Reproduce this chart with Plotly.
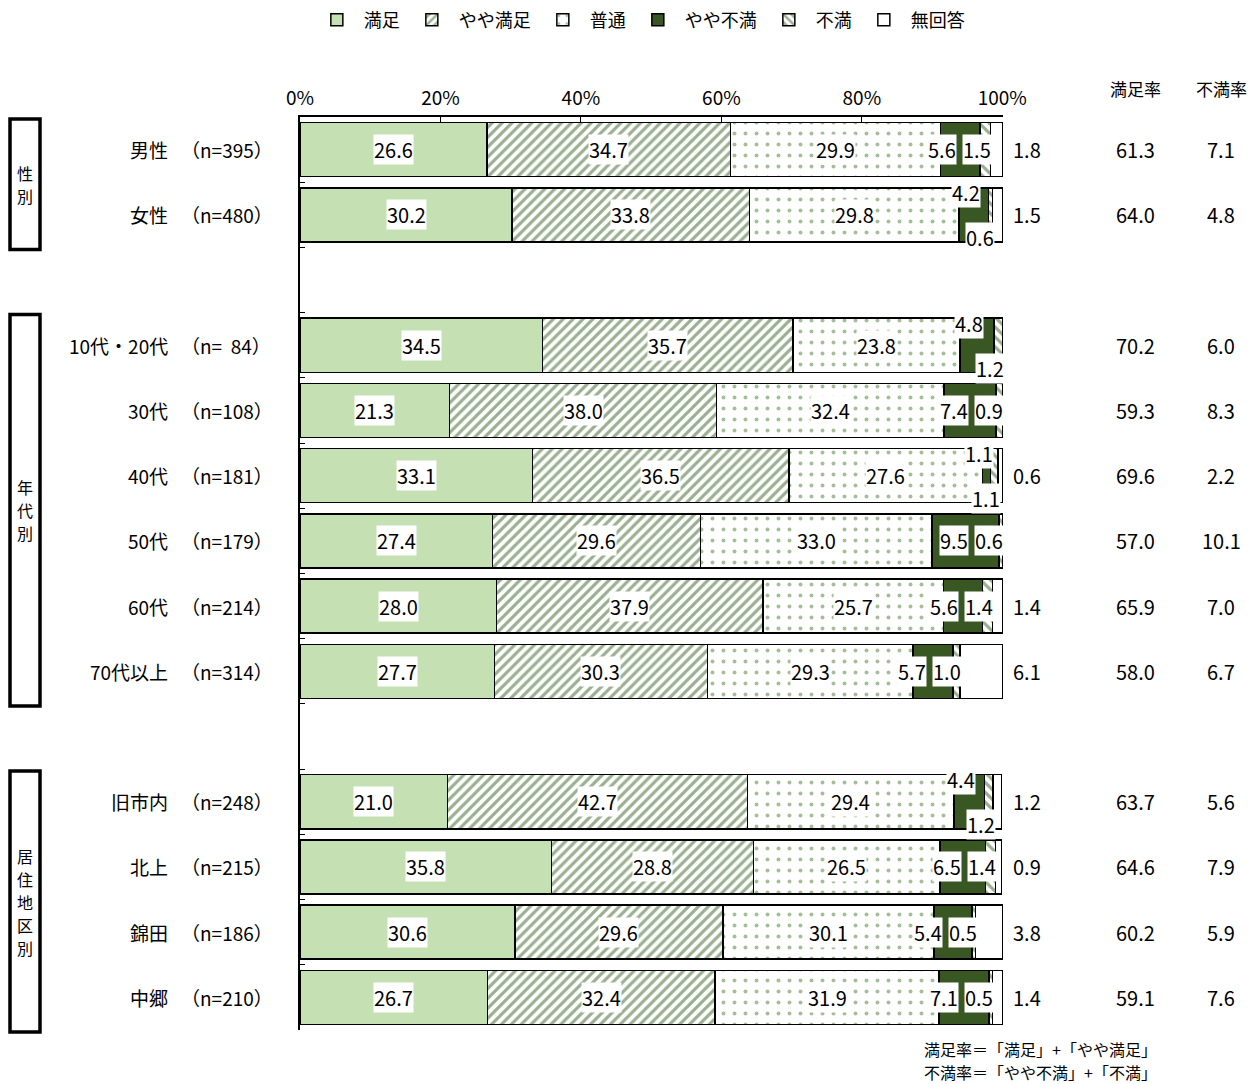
import plotly.graph_objects as go

# ---------------- data ----------------
categories = ["満足", "やや満足", "普通", "やや不満", "不満", "無回答"]
row_names = ["男性", "女性", "10代・20代", "30代", "40代", "50代", "60代", "70代以上",
             "旧市内", "北上", "錦田", "中郷"]
row_n = ["（n=395）", "（n=480）", "（n=  84）", "（n=108）", "（n=181）", "（n=179）",
         "（n=214）", "（n=314）", "（n=248）", "（n=215）", "（n=186）", "（n=210）"]
groups = [("性別", 0, 1), ("年代別", 2, 7), ("居住地区別", 8, 11)]

manzoku      = [26.6, 30.2, 34.5, 21.3, 33.1, 27.4, 28.0, 27.7, 21.0, 35.8, 30.6, 26.7]
yaya_manzoku = [34.7, 33.8, 35.7, 38.0, 36.5, 29.6, 37.9, 30.3, 42.7, 28.8, 29.6, 32.4]
futsu        = [29.9, 29.8, 23.8, 32.4, 27.6, 33.0, 25.7, 29.3, 29.4, 26.5, 30.1, 31.9]
yaya_fuman   = [5.6, 4.2, 4.8, 7.4, 1.1, 9.5, 5.6, 5.7, 4.4, 6.5, 5.4, 7.1]
fuman        = [1.5, 0.6, 1.2, 0.9, 1.1, 0.6, 1.4, 1.0, 1.2, 1.4, 0.5, 0.5]
mukaitou     = [1.8, 1.5, 0.0, 0.0, 0.6, 0.0, 1.4, 6.1, 1.2, 0.9, 3.8, 1.4]
manzoku_rate = [61.3, 64.0, 70.2, 59.3, 69.6, 57.0, 65.9, 58.0, 63.7, 64.6, 60.2, 59.1]
fuman_rate   = [7.1, 4.8, 6.0, 8.3, 2.2, 10.1, 7.0, 6.7, 5.6, 7.9, 5.9, 7.6]
x_ticks = [0, 20, 40, 60, 80, 100]
x_tick_labels = ["0%", "20%", "40%", "60%", "80%", "100%"]
rate_headers = ["満足率", "不満率"]
footnote = ["満足率＝「満足」+「やや満足」", "不満率＝「やや不満」+「不満」"]

# rows whose small labels are stacked above / below the bar
stacked_rows = {"女性", "10代・20代", "40代", "旧市内"}

# ---------------- layout helpers ----------------
series = [manzoku, yaya_manzoku, futsu, yaya_fuman, fuman, mukaitou]
pos = []
slot = 0
for gname, a, b in groups:
    for r in range(a, b + 1):
        pos.append(slot)
        slot += 1
    slot += 1
n_slots = slot - 1  # 14


def ypaper(s):
    return 1 - (s + 0.5) / n_slots


FONT = "Noto Sans CJK JP"
GREEN_LIGHT = "#c5e0b3"
GREEN_DARK = "#385723"
PAT = "#355f20"

styles = [
    dict(color=GREEN_LIGHT),
    dict(color="white", pattern=dict(shape="/", fgcolor=PAT, bgcolor="white", size=7, solidity=0.45)),
    dict(color="white", pattern=dict(shape=".", fgcolor="#4a7d30", bgcolor="white", size=11, solidity=0.1)),
    dict(color=GREEN_DARK),
    dict(color="white", pattern=dict(shape="\\", fgcolor=PAT, bgcolor="white", size=7, solidity=0.45)),
    dict(color="white"),
]

fig = go.Figure()
for cat, vals, st in zip(categories, series, styles):
    xs = [v if v > 0 else None for v in vals]
    fig.add_trace(go.Bar(
        y=pos, x=xs, name=cat, orientation="h", width=0.83,
        marker=dict(line=dict(color="black", width=1.5), **st),
        hoverinfo="skip",
    ))

ann = []
lab_font = dict(family=FONT, size=20, color="black")
name_font = dict(family=FONT, size=19, color="black")
for i, name in enumerate(row_names):
    y = pos[i]
    cum = [0]
    for s in series:
        cum.append(cum[-1] + s[i])
    for k in range(3):
        ann.append(dict(x=(cum[k] + cum[k + 1]) / 2, y=y, xref="x", yref="y",
                        text=f"{series[k][i]:.1f}", showarrow=False, font=lab_font,
                        bgcolor="white", borderpad=0))
    if name in stacked_rows:
        ann.append(dict(x=(cum[3] + cum[4]) / 2, y=y, xref="x", yref="y", xanchor="center",
                        xshift=-8, yshift=22,
                        text=f"{series[3][i]:.1f}", showarrow=False, font=lab_font,
                        bgcolor="white", borderpad=0))
        ann.append(dict(x=cum[5], y=y, xref="x", yref="y", xanchor="right", xshift=3, yshift=-23,
                        text=f"{series[4][i]:.1f}", showarrow=False, font=lab_font,
                        bgcolor="white", borderpad=0))
    else:
        xe = min(cum[5], 100)
        ann.append(dict(x=xe, y=y, xref="x", yref="y", xanchor="right", xshift=2,
                        text=f"{series[4][i]:.1f}", showarrow=False, font=lab_font,
                        bgcolor="white", borderpad=0))
        ann.append(dict(x=xe, y=y, xref="x", yref="y", xanchor="right", xshift=-33,
                        text=f"{series[3][i]:.1f}", showarrow=False, font=lab_font,
                        bgcolor="white", borderpad=0))
    if mukaitou[i] > 0:
        ann.append(dict(x=1, y=y, xref="paper", yref="y", xanchor="left", xshift=8,
                        text=f"{mukaitou[i]:.1f}", showarrow=False, font=lab_font))
    ann.append(dict(x=1, y=y, xref="paper", yref="y", xanchor="center", xshift=132,
                    text=f"{manzoku_rate[i]:.1f}", showarrow=False, font=lab_font))
    ann.append(dict(x=1, y=y, xref="paper", yref="y", xanchor="center", xshift=218,
                    text=f"{fuman_rate[i]:.1f}", showarrow=False, font=lab_font))
    ann.append(dict(x=0, y=y, xref="paper", yref="y", xanchor="right", xshift=-130,
                    text=name, showarrow=False, font=name_font))
    ann.append(dict(x=0, y=y, xref="paper", yref="y", xanchor="left", xshift=-121,
                    text=row_n[i], showarrow=False, font=name_font))

for h, xs in zip(rate_headers, [132, 218]):
    ann.append(dict(x=1, y=1, xref="paper", yref="paper", xanchor="center", yanchor="middle",
                    xshift=xs, yshift=29, text=h, showarrow=False,
                    font=dict(family=FONT, size=17, color="black")))
for li, line in enumerate(footnote):
    ann.append(dict(x=1, y=0, xref="paper", yref="paper", xanchor="left", yanchor="middle",
                    xshift=-81, yshift=-19 - 23 * li, text=line, align="left",
                    showarrow=False, font=dict(family=FONT, size=16, color="black")))

shapes = []
for gname, a, b in groups:
    top = ypaper(pos[a] - 0.47)
    bot = ypaper(pos[b] + 0.53)
    shapes.append(dict(type="rect", xref="paper", yref="paper", xsizemode="pixel", xanchor=0,
                       x0=-290, x1=-260, y0=bot, y1=top, line=dict(color="black", width=3.5)))
    nch = len(gname)
    for ci, ch in enumerate(gname):
        ann.append(dict(x=0, y=(top + bot) / 2, xref="paper", yref="paper", xanchor="center",
                        yanchor="middle", xshift=-275, yshift=((nch - 1) / 2 - ci) * 23,
                        text=ch, showarrow=False,
                        font=dict(family=FONT, size=16, color="black")))

fig.update_layout(
    barmode="stack",
    width=1258, height=1084,
    margin=dict(l=300, r=255, t=117, b=54, autoexpand=False),
    paper_bgcolor="white", plot_bgcolor="white",
    font=dict(family=FONT, size=18, color="black"),
    showlegend=True,
    legend=dict(orientation="h", x=0.014, xanchor="left", y=1 - 20 / 1084, yanchor="middle",
                yref="container", font=dict(family=FONT, size=18), traceorder="normal",
                itemwidth=44, itemclick=False, itemdoubleclick=False),
    xaxis=dict(side="top", range=[0, 100.1], tickvals=x_ticks, ticktext=x_tick_labels,
               showline=True, linecolor="black", linewidth=1.5, ticks="inside", ticklen=5,
               tickcolor="black", showgrid=False, zeroline=False, ticklabelstandoff=3,
               tickfont=dict(family=FONT, size=19, color="black"), fixedrange=True),
    yaxis=dict(range=[n_slots - 0.5, -0.5], showline=True, linecolor="black", linewidth=1.5,
               showticklabels=False, ticks="inside", ticklen=5, tickcolor="black",
               tickvals=[k + 0.5 for k in range(-1, n_slots)],
               showgrid=False, zeroline=False, fixedrange=True),
    annotations=ann, shapes=shapes,
)

fig.write_html("out.html", config={"displayModeBar": False})
